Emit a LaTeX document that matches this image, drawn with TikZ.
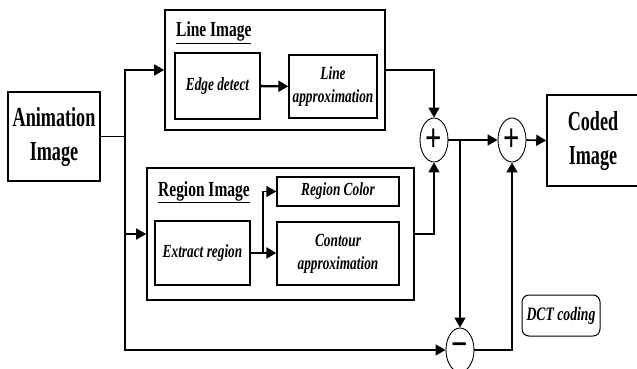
\documentclass[tikz,border=0pt]{standalone}
\usepackage{fontspec}
\setmainfont{Liberation Serif}[FakeStretch=0.72]
\newfontfamily\bigfont{Liberation Serif}[FakeStretch=0.66]
\usetikzlibrary{arrows.meta,shapes.geometric}
\begin{document}
\begin{tikzpicture}[x=1pt,y=-1pt,
  box/.style={draw,line width=1.6pt,inner sep=0pt},
  inbox/.style={draw,line width=1.4pt,inner sep=0pt,align=center,font=\fontsize{18.5}{23}\selectfont\bfseries\itshape},
  big/.style={align=center,font=\bigfont\fontsize{27.5}{34}\selectfont\bfseries},
  ttl/.style={anchor=base west,inner sep=0pt,font=\fontsize{21.5}{24}\selectfont\bfseries},
  sumnode/.style={draw,ellipse,line width=0.9pt,minimum width=28pt,minimum height=44pt,inner sep=0pt,font=\fontsize{40}{40}\selectfont\bfseries},
  ln/.style={line width=1.6pt},
  arr/.style={line width=1.6pt,-{Triangle[length=10pt,width=11pt]}},
  arrthick/.style={line width=2.4pt,-{Triangle[length=10pt,width=11pt]}}
]
\useasboundingbox (0,0) rectangle (637,369);
\clip (0,0) rectangle (637,369);

% boxes
\node[box,minimum width=92pt,minimum height=89pt,big] (anim) at (54,136.5) {Animation\\Image};
\node[box,minimum width=220pt,minimum height=120pt] (lineimg) at (275,70) {};
\node[ttl] (linettl) at (176,37) {\underline{Line Image}};
\node[inbox,minimum width=85pt,minimum height=66pt] (edge) at (217.5,86) {Edge detect};
\node[inbox,minimum width=88pt,minimum height=63pt] (lineapprox) at (333,86.5) {Line\\approximation};

\node[box,minimum width=267pt,minimum height=132pt] (regimg) at (280.5,234) {};
\node[ttl] (regttl) at (158,196) {\underline{Region Image}};
\node[inbox,minimum width=122pt,minimum height=29pt] (regcolor) at (338,191.5) {Region Color};
\node[inbox,minimum width=95pt,minimum height=64pt] (extract) at (202.5,253) {Extract region};
\node[inbox,minimum width=122pt,minimum height=63pt] (contour) at (338,253.5) {Contour\\approximation};

\node[sumnode] (plus1) at (434,140) {+};
\node[sumnode] (plus2) at (512,140) {+};
\node[sumnode] (minus) at (460,350) {−};

\node[box,minimum width=98pt,minimum height=91pt,big] (coded) at (596,140.5) {};
\node[big,anchor=center] (codedtxt) at (593,140.5) {Coded\\Image};

\node[draw,line width=1pt,rounded corners=7pt,minimum width=78pt,minimum height=41pt,inner sep=0pt,font=\fontsize{19}{23}\selectfont\bfseries\itshape] (dct) at (561,315.5) {DCT coding};

% connectors
\coordinate (split) at (125,136.5);
\draw[ln] (anim.east) -- (split);
\draw[arr] (split) |- (lineimg.west);
\draw[arr] (split) |- (regimg.west);
\draw[arr] (split) |- (minus.west);

\draw[arrthick] (edge) -- (lineapprox);
\draw[arr] (lineimg.east) -| (plus1.north);
\draw[arr] (regimg.east) -| (plus1.south);

\coordinate (exsplit) at (263,253);
\draw[arrthick] (extract.east) -- (contour.west |- extract.east);
\draw[arr] (exsplit) |- (regcolor.west);

\draw[arr] (plus1.east) -- (plus2.west);
\coordinate (psplit) at (460,140);
\draw[arr] (psplit) -- (minus.north);
\draw[arr] (plus2.east) -- (coded.west);
\draw[arr] (minus.east) -| (plus2.south);
\end{tikzpicture}
\end{document}
